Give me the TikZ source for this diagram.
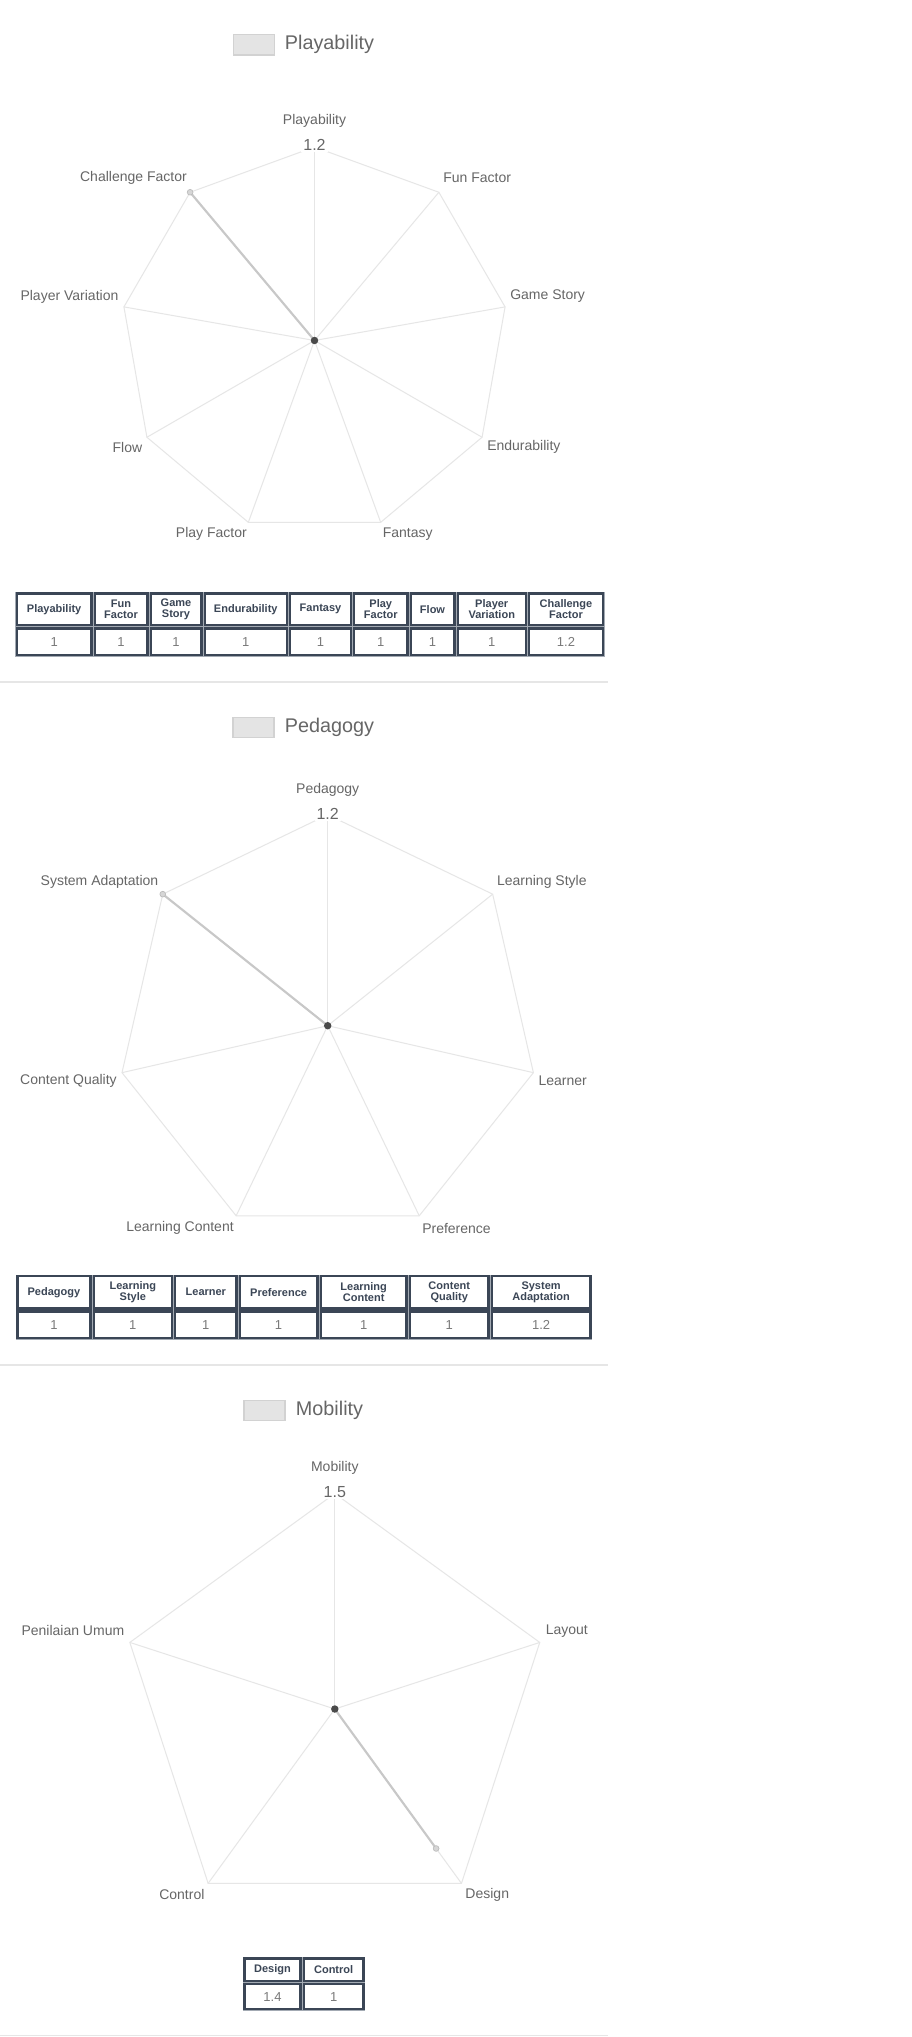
\documentclass[tikz,border=0pt]{standalone}
\usepackage{fontspec}
\setmainfont{Liberation Sans}
\definecolor{axiscol}{HTML}{E6E6E6}
\definecolor{lblcol}{HTML}{666666}
\definecolor{datacol}{HTML}{C8C8C8}
\definecolor{ptfill}{HTML}{D6D6D6}
\definecolor{ptdraw}{HTML}{BBBBBB}
\definecolor{ctrcol}{HTML}{4A4A4A}
\definecolor{tblcol}{HTML}{3B4656}
\definecolor{tblgap}{HTML}{A3AAB3}
\definecolor{valcol}{HTML}{7A7A7A}
\definecolor{sepcol}{HTML}{E6E6E6}
\definecolor{legfill}{HTML}{E4E4E4}
\definecolor{legdraw}{HTML}{D2D2D2}
\begin{document}
\begin{tikzpicture}[x=0.75pt,y=-0.75pt,
  axisline/.style={draw=axiscol, line width=0.75pt},
  ptlabel/.style={text=lblcol, inner sep=0pt, font=\fontsize{10.5pt}{12pt}\selectfont},
  ticklabel/.style={text=lblcol, fill=white, inner xsep=1.5pt, inner ysep=1pt, font=\fontsize{12pt}{14pt}\selectfont},
  legendbox/.style={fill=legfill, draw=legdraw, line width=1.1pt, inner sep=0pt, minimum width=30.8pt, minimum height=15.2pt},
  legendtext/.style={text=lblcol, inner sep=0pt, anchor=west, font=\fontsize{14.85pt}{17pt}\selectfont},
  dataline/.style={draw=datacol, line width=1.6pt},
  datapt/.style={circle, fill=ptfill, draw=ptdraw, line width=0.5pt, inner sep=0pt, minimum size=4.3pt},
  ctrdot/.style={circle, fill=ctrcol, inner sep=0pt, minimum size=5.6pt},
  hcell/.style={draw=tblcol, fill=white, line width=1.8pt, inner sep=0pt, align=center, text=tblcol,
     font=\fontsize{8.25pt}{8.4pt}\selectfont\bfseries},
  vcell/.style={draw=tblcol, fill=white, line width=1.8pt, inner sep=0pt, text=valcol,
     font=\fontsize{9.75pt}{11pt}\selectfont},
  sepline/.style={draw=sepcol, line width=1.2pt}
]
\fill[white] (0,0) rectangle (912,2037);
\useasboundingbox (0,0) rectangle (912,2037);

% ================= Chart 1: Playability =================
\node[legendbox] (leg1box) at (254,44.85) {};
\node[legendtext] (leg1txt) at (284.7,44.5) {Playability};
\coordinate (c1) at (314.5,340.5);
\foreach \k in {0,...,8} { \path (c1) ++({40*\k-90}:193.5) coordinate (c1v\k); }
\draw[axisline] (c1v0) \foreach \k in {1,...,8}{ -- (c1v\k)} -- cycle;
\foreach \k in {0,...,8} { \draw[axisline] (c1) -- (c1v\k); }
\path (c1) ++(230:193.5) coordinate (c1d);
\draw[dataline] (c1) -- (c1d);
\node[datapt] (c1dp) at (c1d) {};
\node[ctrdot] (c1ctr) at (c1) {};
\node[ticklabel] (c1tick) at (314.5,145) {1.2};
\node[ptlabel] (c1l0) at (314.5,121) {Playability};
\node[ptlabel, anchor=west] (c1l1) at (443,178) {Fun Factor};
\node[ptlabel, anchor=west] (c1l2) at (510,296.4) {Game Story};
\node[ptlabel, anchor=west] (c1l3) at (487,447) {Endurability};
\node[ptlabel, anchor=west] (c1l4) at (382.5,534) {Fantasy};
\node[ptlabel, anchor=east] (c1l5) at (247,534) {Play Factor};
\node[ptlabel, anchor=east] (c1l6) at (142.5,447) {Flow};
\node[ptlabel, anchor=east] (c1l7) at (118.6,296.4) {Player Variation};
\node[ptlabel, anchor=east] (c1l8) at (187,178) {Challenge Factor};

% table 1
\fill[tblgap] (15.3,591.7) rectangle (604.5,656.5);
\foreach \xl/\xr/\h/\v [count=\i] in {
  15.3/93/{Playability}/1,
  93/149/{Fun\\Factor}/1,
  149/203/{Game\\Story}/1,
  203/288.5/{Endurability}/1,
  288.5/352.5/{Fantasy}/1,
  352.5/409/{Play\\Factor}/1,
  409/456/{Flow}/1,
  456/527.5/{Player\\Variation}/1,
  527.5/604.5/{Challenge\\Factor}/1.2} {
  \pgfmathsetmacro{\cellx}{(\xl+\xr)/2}
  \pgfmathsetmacro{\cellw}{(\xr-\xl-3.4)*0.75}
  \node[hcell, minimum width=\cellw pt, minimum height=23.9pt] (t1h\i) at (\cellx,609.35) {\h};
  \node[vcell, minimum width=\cellw pt, minimum height=19.6pt] (t1v\i) at (\cellx,641.75) {\v};
}
\draw[sepline] (0,682) -- (608,682);

% ================= Chart 2: Pedagogy =================
\node[legendbox] (leg2box) at (253.5,727.5) {};
\node[legendtext] (leg2txt) at (284.6,727) {Pedagogy};
\coordinate (c2) at (327.7,1025.7);
\foreach \k in {0,...,6} { \path (c2) ++({360/7*\k-90}:211) coordinate (c2v\k); }
\draw[axisline] (c2v0) \foreach \k in {1,...,6}{ -- (c2v\k)} -- cycle;
\foreach \k in {0,...,6} { \draw[axisline] (c2) -- (c2v\k); }
\path (c2) ++({360/7*6-90}:211) coordinate (c2d);
\draw[dataline] (c2) -- (c2d);
\node[datapt] (c2dp) at (c2d) {};
\node[ctrdot] (c2ctr) at (c2) {};
\node[ticklabel] (c2tick) at (327.7,813.7) {1.2};
\node[ptlabel] (c2l0) at (327.7,790) {Pedagogy};
\node[ptlabel, anchor=west] (c2l1) at (496.8,882) {Learning Style};
\node[ptlabel, anchor=west] (c2l2) at (538.3,1081) {Learner};
\node[ptlabel, anchor=west] (c2l3) at (422,1228) {Preference};
\node[ptlabel, anchor=east] (c2l4) at (234,1228) {Learning Content};
\node[ptlabel, anchor=east] (c2l5) at (117,1081) {Content Quality};
\node[ptlabel, anchor=east] (c2l6) at (158.5,882) {System Adaptation};

% table 2
\fill[tblgap] (15.6,1274.5) rectangle (592,1339.5);
\foreach \xl/\xr/\h/\v [count=\i] in {
  15.6/92.2/{Pedagogy}/1,
  92.2/173.5/{Learning\\Style}/1,
  173.5/238.2/{Learner}/1,
  238.2/319/{Preference}/1,
  319/408.3/{Learning\\Content}/1,
  408.3/490.2/{Content\\Quality}/1,
  490.2/592/{System\\Adaptation}/1.2} {
  \pgfmathsetmacro{\cellx}{(\xl+\xr)/2}
  \pgfmathsetmacro{\cellw}{(\xr-\xl-3.4)*0.75}
  \node[hcell, minimum width=\cellw pt, minimum height=24.1pt] (t2h\i) at (\cellx,1292.25) {\h};
  \node[vcell, minimum width=\cellw pt, minimum height=19.6pt] (t2v\i) at (\cellx,1324.75) {\v};
}
\draw[sepline] (0,1365) -- (608,1365);

% ================= Chart 3: Mobility =================
\node[legendbox] (leg3box) at (264.6,1410.6) {};
\node[legendtext] (leg3txt) at (295.7,1410.4) {Mobility};
\coordinate (c3) at (334.8,1709);
\foreach \k in {0,...,4} { \path (c3) ++({72*\k-90}:215.5) coordinate (c3v\k); }
\draw[axisline] (c3v0) \foreach \k in {1,...,4}{ -- (c3v\k)} -- cycle;
\foreach \k in {0,...,4} { \draw[axisline] (c3) -- (c3v\k); }
\path (c3) ++(54:172.4) coordinate (c3d);
\draw[dataline] (c3) -- (c3d);
\node[datapt] (c3dp) at (c3d) {};
\node[ctrdot] (c3ctr) at (c3) {};
\node[ticklabel] (c3tick) at (334.8,1491.6) {1.5};
\node[ptlabel] (c3l0) at (334.8,1468.3) {Mobility};
\node[ptlabel, anchor=west] (c3l1) at (545.5,1630.7) {Layout};
\node[ptlabel, anchor=west] (c3l2) at (465.2,1894.9) {Design};
\node[ptlabel, anchor=east] (c3l3) at (204.7,1894.9) {Control};
\node[ptlabel, anchor=east] (c3l4) at (124.5,1630.7) {Penilaian Umum};

% table 3
\fill[tblgap] (242.7,1956.7) rectangle (365,2010.7);
\foreach \xl/\xr/\h/\v [count=\i] in {
  242.7/302.3/{Design}/1.4,
  302.3/365/{Control}/1} {
  \pgfmathsetmacro{\cellx}{(\xl+\xr)/2}
  \pgfmathsetmacro{\cellw}{(\xr-\xl-3.4)*0.75}
  \node[hcell, minimum width=\cellw pt, minimum height=16.8pt] (t3h\i) at (\cellx,1969.6) {\h};
  \node[vcell, minimum width=\cellw pt, minimum height=18.6pt] (t3v\i) at (\cellx,1996.6) {\v};
}
\draw[sepline] (0,2035.5) -- (608,2035.5);
\end{tikzpicture}
\end{document}
